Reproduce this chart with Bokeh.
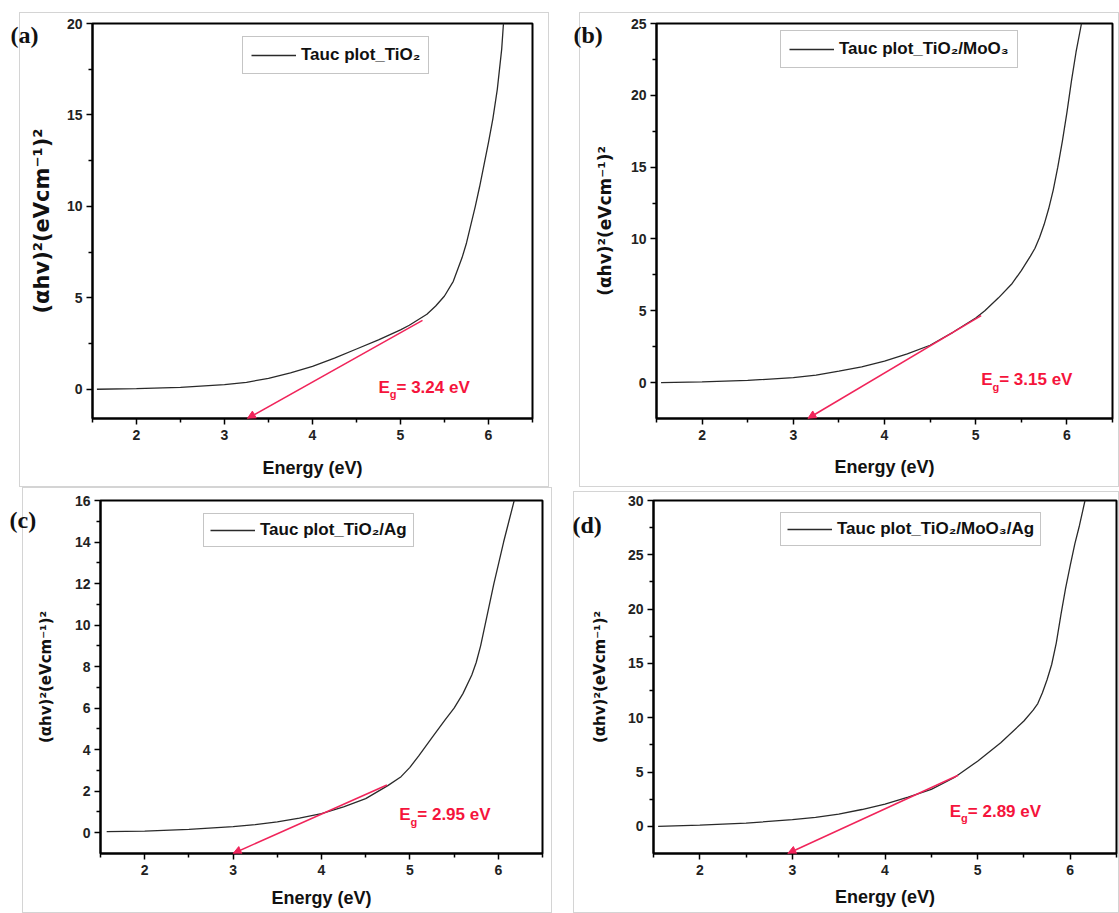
from bokeh.plotting import figure
from bokeh.layouts import row, column
from bokeh.models import (FixedTicker, Legend, LegendItem, Arrow, NormalHead,
                          Range1d, ColumnDataSource)
from bokeh.embed import file_html
from bokeh.resources import INLINE
from bokeh.core.properties import value

# ---------------- data ----------------
energy_a = [1.55, 2.0, 2.5, 3.0, 3.25, 3.5, 3.75, 4.0, 4.25, 4.5, 4.75, 5.0, 5.1, 5.2, 5.3,
            5.4, 5.5, 5.6, 5.7, 5.75, 5.8, 5.85, 5.9, 5.95, 6.0, 6.05, 6.1, 6.15, 6.17]
tauc_a = [0.0, 0.03, 0.1, 0.25, 0.38, 0.6, 0.9, 1.25, 1.7, 2.2, 2.7, 3.25, 3.5, 3.8, 4.1,
          4.55, 5.1, 5.9, 7.2, 8.0, 9.0, 10.0, 11.1, 12.3, 13.5, 14.8, 16.4, 18.6, 20.0]

energy_b = [1.55, 2.0, 2.5, 3.0, 3.25, 3.5, 3.75, 4.0, 4.25, 4.5, 4.75, 5.0, 5.1, 5.25, 5.4,
            5.5, 5.6, 5.65, 5.7, 5.75, 5.8, 5.85, 5.9, 5.95, 6.0, 6.05, 6.1, 6.16]
tauc_b = [0.0, 0.05, 0.15, 0.34, 0.52, 0.8, 1.1, 1.5, 2.0, 2.6, 3.5, 4.5, 5.0, 5.9, 6.9,
          7.8, 8.8, 9.35, 10.1, 11.0, 12.1, 13.4, 15.0, 16.8, 18.8, 21.0, 23.0, 25.0]

energy_c = [1.57, 2.0, 2.5, 3.0, 3.25, 3.5, 3.75, 4.0, 4.25, 4.5, 4.75, 4.9, 5.0, 5.1, 5.25,
            5.4, 5.5, 5.6, 5.7, 5.75, 5.8, 5.85, 5.9, 5.95, 6.0, 6.06, 6.12, 6.18]
tauc_c = [0.05, 0.08, 0.16, 0.29, 0.39, 0.52, 0.7, 0.92, 1.25, 1.64, 2.27, 2.7, 3.15, 3.7, 4.58,
          5.45, 6.0, 6.7, 7.6, 8.2, 9.0, 10.0, 11.0, 12.0, 12.9, 14.0, 15.0, 16.0]

energy_d = [1.55, 2.0, 2.5, 3.0, 3.25, 3.5, 3.75, 4.0, 4.25, 4.5, 4.75, 5.0, 5.25, 5.5, 5.6,
            5.65, 5.7, 5.75, 5.8, 5.85, 5.9, 5.95, 6.0, 6.05, 6.1, 6.16]
tauc_d = [0.0, 0.12, 0.3, 0.61, 0.83, 1.13, 1.55, 2.05, 2.7, 3.4, 4.5, 6.0, 7.7, 9.7, 10.7,
          11.3, 12.3, 13.5, 14.9, 16.9, 19.5, 21.9, 24.0, 26.0, 27.7, 30.0]

panel_tags = ["(a)", "(b)", "(c)", "(d)"]
legend_labels = ["Tauc plot_TiO\u2082", "Tauc plot_TiO\u2082/MoO\u2083",
                 "Tauc plot_TiO\u2082/Ag", "Tauc plot_TiO\u2082/MoO\u2083/Ag"]
band_gaps = ["3.24", "3.15", "2.95", "2.89"]

x_ticks = [2, 3, 4, 5, 6]
x_minor = [1.5, 2.5, 3.5, 4.5, 5.5, 6.5]
x_limits = (1.5, 6.5)
y_ticks = [[0, 5, 10, 15, 20], [0, 5, 10, 15, 20, 25],
           [0, 2, 4, 6, 8, 10, 12, 14, 16], [0, 5, 10, 15, 20, 25, 30]]
y_minor = [[2.5, 7.5, 12.5, 17.5], [2.5, 7.5, 12.5, 17.5, 22.5],
           [1, 3, 5, 7, 9, 11, 13, 15], [2.5, 7.5, 12.5, 17.5, 22.5, 27.5]]
y_limits = [(-1.6, 20), (-2.5, 25), (-1.0, 16), (-2.5, 30)]

tangent_x0 = [5.25, 5.06, 4.74, 4.79]
tangent_y0 = [3.77, 4.66, 2.30, 4.70]
tangent_x1 = [3.26, 3.16, 3.00, 2.95]
tangent_y1 = [-1.6, -2.5, -1.0, -2.5]

eg_x = [4.75, 5.06, 4.88, 4.70]
eg_y = [0.1, 0.2, 0.86, 1.4]

x_label = "Energy (eV)"
y_label = "(\u03b1hv)\u00b2(eVcm\u207b\u00b9)\u00b2"

# ---------------- layout (pixels) ----------------
# width, height, left, right, top, bottom borders
geom = [
    (560, 487, 92, 28, 23, 69),
    (559, 487, 96, 7, 23, 64),
    (560, 426, 100, 18, 10, 60),
    (559, 426, 93, 3, 13, 58),
]
legend_pos = [(150, 15, 8), (124, 14, 8), (103, 18, 6), (127, 16, 6)]  # left, top offset, padding
tag_pos = [(-82, -48), (-83, -48), (-91, -64), (-81, -74)]   # title offset, standoff
ylab_style = [("21px", 10), ("17px", 13), ("15px", 17), ("15px", 16)]  # y label size, standoff
xlab_standoff = [15, 14, 10, 9]
gray_box = [(19, 548, 12, 486), (19, 558, 12, 486), (22, 551, 0, 425), (13, 558, 4, 425)]

RED_LINE = "#f0245a"
RED_TEXT = "#f5143c"
FONT = "Liberation Sans"
BOX = "#d4d4d4"

series = [(energy_a, tauc_a), (energy_b, tauc_b), (energy_c, tauc_c), (energy_d, tauc_d)]


def box_css(l, r, t, b):
    g = "linear-gradient(%s,%s)" % (BOX, BOX)
    return {
        "background-color": "white",
        "background-image": ", ".join([g] * 4),
        "background-size": "%dpx 1px, %dpx 1px, 1px %dpx, 1px %dpx" % (r - l + 1, r - l + 1, b - t + 1, b - t + 1),
        "background-position": "%dpx %dpx, %dpx %dpx, %dpx %dpx, %dpx %dpx" % (l, t, l, b, l, t, r, t),
        "background-repeat": "no-repeat",
    }


panels = []
for i in range(4):
    w, h, bl, br, bt, bb = geom[i]
    p = figure(width=w, height=h, output_backend="svg", toolbar_location=None,
               x_range=Range1d(*x_limits), y_range=Range1d(*y_limits[i]),
               min_border_left=bl, min_border_right=br, min_border_top=bt, min_border_bottom=bb,
               background_fill_color="white", border_fill_color="white", border_fill_alpha=0)
    p.styles = box_css(*gray_box[i])
    p.xgrid.visible = False
    p.ygrid.visible = False
    p.outline_line_color = "black"
    p.outline_line_width = 2
    p.outline_line_alpha = 1

    p.xaxis.ticker = FixedTicker(ticks=x_ticks, minor_ticks=x_minor)
    p.yaxis.ticker = FixedTicker(ticks=y_ticks[i], minor_ticks=y_minor[i])
    for ax in (p.xaxis[0], p.yaxis[0]):
        ax.axis_line_width = 2
        ax.major_tick_in = 0
        ax.major_tick_out = 6
        ax.minor_tick_in = 0
        ax.minor_tick_out = 4
        ax.major_tick_line_width = 1.5
        ax.minor_tick_line_width = 1.5
        ax.major_label_text_font = FONT
        ax.major_label_text_font_style = "bold"
        ax.major_label_text_font_size = "14px"
        ax.major_label_text_color = "#222222"
        ax.axis_label_text_font_style = "bold"
        ax.axis_label_text_color = "#111111"
    p.xaxis.axis_label = x_label
    p.yaxis.axis_label = y_label
    p.xaxis.axis_label_text_font = FONT
    p.xaxis.axis_label_text_font_size = "18px"
    ysz, ystand = ylab_style[i]
    p.yaxis.axis_label_text_font = "DejaVu Sans"
    p.yaxis.axis_label_text_font_size = ysz
    p.xaxis.axis_label_standoff = xlab_standoff[i]
    p.yaxis.axis_label_standoff = ystand
    p.xaxis.major_label_standoff = 5
    p.yaxis.major_label_standoff = 4

    ex, ty = series[i]
    src = ColumnDataSource(dict(x=ex, y=ty))
    r = p.line("x", "y", source=src, line_color="#2a2a2a", line_width=1.3)

    # tangent line with arrow head at the axis
    p.add_layout(Arrow(end=NormalHead(size=8, fill_color=RED_LINE, line_color=RED_LINE),
                       x_start=tangent_x0[i], y_start=tangent_y0[i],
                       x_end=tangent_x1[i], y_end=tangent_y1[i],
                       line_color=RED_LINE, line_width=1.5))

    # E_g label
    eg_src = ColumnDataSource(dict(x=[eg_x[i]], y=[eg_y[i]], t1=["E"], t2=["g"],
                                   t3=["= " + band_gaps[i] + " eV"]))
    p.text("x", "y", text="t1", source=eg_src, text_font=value(FONT), text_font_style="bold",
           text_font_size="17px", text_color=RED_TEXT, text_baseline="middle", text_align="left")
    p.text("x", "y", text="t2", source=eg_src, text_font=value(FONT), text_font_style="bold",
           text_font_size="11px", text_color=RED_TEXT, text_baseline="middle", text_align="left",
           x_offset=11.3, y_offset=7)
    p.text("x", "y", text="t3", source=eg_src, text_font=value(FONT), text_font_style="bold",
           text_font_size="17px", text_color=RED_TEXT, text_baseline="middle", text_align="left",
           x_offset=18)

    # legend
    frame_h = h - bt - bb
    lx, ltop, pad = legend_pos[i]
    leg_h = 2 * pad + 20
    legend = Legend(items=[LegendItem(label=legend_labels[i], renderers=[r])],
                    location=(lx, frame_h - ltop - leg_h), orientation="vertical",
                    padding=pad, spacing=0, margin=0,
                    glyph_width=45, glyph_height=20, label_height=20, label_standoff=5,
                    label_text_font=FONT, label_text_font_style="bold",
                    label_text_font_size="17px", label_text_color="#111111",
                    border_line_color="#8c8c8c", border_line_width=1,
                    background_fill_color="white", background_fill_alpha=1)
    p.add_layout(legend, "center")

    # panel tag, drawn by the title (not clipped to the frame)
    off, stand = tag_pos[i]
    p.title.text = panel_tags[i]
    p.title.align = "left"
    p.title.offset = off
    p.title.standoff = stand
    p.title.text_font = "Liberation Serif"
    p.title.text_font_style = "bold"
    p.title.text_font_size = "24px"
    p.title.text_color = "#111111"

    panels.append(p)

layout = column(row(panels[0], panels[1]), row(panels[2], panels[3]))
open("out.html", "w").write(file_html(layout, INLINE))
